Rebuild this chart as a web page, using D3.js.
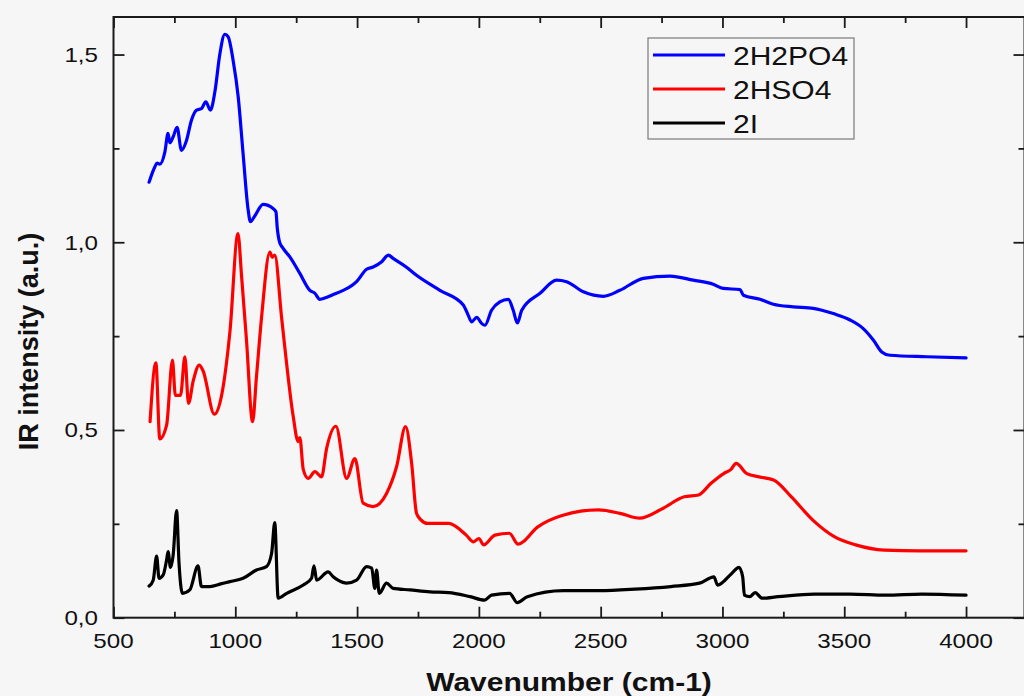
<!DOCTYPE html>
<html>
<head>
<meta charset="utf-8">
<script src="https://cdn.jsdelivr.net/npm/d3@7"></script>
<style>
  html, body { margin: 0; padding: 0; background: #f6f6f6; }
  svg { display: block; }
  text { font-family: "Liberation Sans", Arial, sans-serif; fill: #111; }
</style>
</head>
<body>
<svg id="chart" width="1024" height="696"></svg>
<script>
// IR spectra of the three complexes: wavenumber (cm-1) and intensity (a.u.)
const seriesNames = ["2H2PO4", "2HSO4", "2I"];

const h2po4X = [646,670,679,690,711,724,731,745,761,779,800,820,841,861,879,898,916,937,957,971,991,1012,1032,1053,1062,1080,1114,1155,1167,1172,1182,1195,1224,1265,1306,1327,1347,1370,1400,1443,1470,1498,1539,1566,1601,1628,1648,1700,1744,1840,1936,1956,1970,1991,2011,2025,2052,2086,2121,2141,2158,2176,2251,2319,2360,2429,2511,2579,2675,2785,2880,2962,3003,3072,3086,3154,3209,3291,3373,3455,3524,3578,3620,3654,3688,3839,4000];
const h2po4Y = [1.160,1.201,1.211,1.208,1.241,1.290,1.265,1.281,1.306,1.245,1.272,1.325,1.352,1.356,1.374,1.352,1.400,1.503,1.554,1.547,1.485,1.387,1.236,1.085,1.055,1.070,1.101,1.090,1.081,1.040,1.000,0.985,0.961,0.917,0.872,0.864,0.848,0.852,0.860,0.872,0.881,0.895,0.928,0.934,0.948,0.966,0.957,0.935,0.912,0.872,0.833,0.806,0.788,0.800,0.784,0.779,0.819,0.841,0.848,0.819,0.785,0.819,0.864,0.899,0.895,0.868,0.856,0.872,0.904,0.910,0.899,0.888,0.877,0.874,0.859,0.848,0.835,0.828,0.824,0.810,0.793,0.770,0.739,0.708,0.699,0.695,0.692];

const hso4X = [650,674,690,718,742,754,775,793,808,827,852,868,914,944,978,1011,1026,1046,1071,1087,1108,1142,1152,1162,1190,1203,1238,1258,1265,1279,1299,1327,1354,1375,1413,1457,1491,1525,1566,1621,1662,1699,1724,1744,1760,1790,1875,1948,1978,2000,2019,2066,2125,2161,2242,2345,2491,2579,2660,2755,2843,2902,2953,3005,3035,3056,3100,3151,3210,3283,3371,3459,3547,3665,3811,4000];
const hso4Y = [0.522,0.679,0.476,0.513,0.686,0.592,0.592,0.695,0.571,0.630,0.673,0.657,0.542,0.593,0.762,1.023,0.908,0.739,0.522,0.642,0.801,0.974,0.960,0.966,0.800,0.722,0.535,0.469,0.480,0.395,0.371,0.389,0.375,0.451,0.510,0.371,0.424,0.305,0.296,0.331,0.402,0.509,0.411,0.278,0.262,0.251,0.251,0.220,0.202,0.211,0.194,0.220,0.225,0.196,0.242,0.273,0.287,0.278,0.265,0.291,0.322,0.327,0.358,0.384,0.395,0.411,0.384,0.375,0.367,0.322,0.260,0.216,0.194,0.180,0.178,0.178];

const iodX = [646,663,677,687,704,718,724,734,745,759,769,783,813,847,861,896,940,978,1032,1087,1128,1149,1162,1176,1211,1279,1313,1323,1334,1381,1402,1422,1457,1498,1539,1560,1573,1580,1591,1621,1648,1717,1799,1876,1964,2023,2052,2126,2158,2199,2347,2494,2641,2788,2906,2965,2980,3038,3068,3083,3090,3112,3134,3163,3229,3377,3524,3671,3818,4000];
const iodY = [0.084,0.100,0.164,0.105,0.114,0.154,0.176,0.134,0.167,0.285,0.145,0.065,0.074,0.138,0.083,0.083,0.090,0.096,0.105,0.127,0.136,0.171,0.253,0.052,0.065,0.087,0.105,0.138,0.100,0.122,0.109,0.100,0.092,0.100,0.136,0.132,0.078,0.127,0.065,0.092,0.078,0.074,0.069,0.067,0.056,0.047,0.060,0.065,0.040,0.056,0.072,0.072,0.076,0.083,0.092,0.109,0.087,0.118,0.134,0.109,0.060,0.056,0.067,0.052,0.056,0.063,0.063,0.060,0.063,0.060];

// axis ticks and labels
const xMajorTicks = [500,1000,1500,2000,2500,3000,3500,4000];
const xMinorTicks = [750,1250,1750,2250,2750,3250,3750];
const yMajorTicks = [0, 0.5, 1.0, 1.5];
const yMinorTicks = [0.25, 0.75, 1.25];
const yTickLabels = ["0,0", "0,5", "1,0", "1,5"];
const xDomain = [500, 4240];
const yDomain = [0, 1.6];
const xTitle = "Wavenumber (cm-1)";
const yTitle = "IR intensity (a.u.)";

const colors = ["#0000ff", "#ff0000", "#000000"];

const svg = d3.select("#chart");
const plotLeft = 113.5, plotRight = 1024.5, plotTop = 17, plotBottom = 617.7;

const x = d3.scaleLinear().domain(xDomain).range([plotLeft, plotRight]);
const y = d3.scaleLinear().domain(yDomain).range([plotBottom, plotTop]);

// widen glyphs horizontally to match the wide rendering of the labels
function widen(sel, k) {
  sel.each(function () {
    const w = this.getComputedTextLength();
    this.setAttribute("textLength", w * k);
    this.setAttribute("lengthAdjust", "spacingAndGlyphs");
  });
}

// spectra
const series = [
  d3.zip(h2po4X, h2po4Y),
  d3.zip(hso4X, hso4Y),
  d3.zip(iodX, iodY)
];
const line = d3.line().x(d => x(d[0])).y(d => y(d[1])).curve(d3.curveMonotoneX);
svg.append("g").selectAll("path")
  .data(series)
  .join("path")
  .attr("d", line)
  .attr("fill", "none")
  .attr("stroke", (d, i) => colors[i])
  .attr("stroke-width", 3.2)
  .attr("stroke-linejoin", "round")
  .attr("stroke-linecap", "round");

// ticks on all four sides, pointing inward
const axisColor = "#1a1a1a";
function tickAxis(axisGen, transform, size) {
  const g = svg.append("g").attr("transform", transform).call(axisGen.tickSize(size).tickFormat(""));
  g.select(".domain").remove();
  g.selectAll(".tick line").attr("stroke", axisColor).attr("stroke-width", 1.8);
  g.selectAll(".tick text").remove();
}
tickAxis(d3.axisBottom(x).tickValues(xMajorTicks), `translate(0,${plotBottom})`, -11);
tickAxis(d3.axisBottom(x).tickValues(xMinorTicks), `translate(0,${plotBottom})`, -6);
tickAxis(d3.axisTop(x).tickValues(xMajorTicks), `translate(0,${plotTop})`, -11);
tickAxis(d3.axisTop(x).tickValues(xMinorTicks), `translate(0,${plotTop})`, -6);
tickAxis(d3.axisLeft(y).tickValues(yMajorTicks), `translate(${plotLeft},0)`, -11);
tickAxis(d3.axisLeft(y).tickValues(yMinorTicks), `translate(${plotLeft},0)`, -6);
tickAxis(d3.axisRight(y).tickValues(yMajorTicks), `translate(${plotRight},0)`, -11);
tickAxis(d3.axisRight(y).tickValues(yMinorTicks), `translate(${plotRight},0)`, -6);

// frame
svg.append("rect")
  .attr("x", plotLeft).attr("y", plotTop)
  .attr("width", plotRight - plotLeft).attr("height", plotBottom - plotTop)
  .attr("fill", "none").attr("stroke", axisColor).attr("stroke-width", 2);

// tick labels
svg.append("g").selectAll("text")
  .data(xMajorTicks)
  .join("text")
  .attr("x", d => x(d))
  .attr("y", 648)
  .attr("text-anchor", "middle")
  .attr("font-size", 21)
  .text(d => d)
  .call(widen, 1.15);

svg.append("g").selectAll("text")
  .data(yMajorTicks)
  .join("text")
  .attr("x", 98)
  .attr("y", d => y(d) + 7.5)
  .attr("text-anchor", "end")
  .attr("font-size", 21)
  .text((d, i) => yTickLabels[i])
  .call(widen, 1.15);

// axis titles
svg.append("text")
  .attr("x", (plotLeft + plotRight) / 2)
  .attr("y", 691)
  .attr("text-anchor", "middle")
  .attr("font-size", 25)
  .attr("font-weight", "bold")
  .text(xTitle)
  .call(widen, 1.2);

svg.append("text")
  .attr("transform", "translate(38,341.5) rotate(-90)")
  .attr("text-anchor", "middle")
  .attr("font-size", 27)
  .attr("font-weight", "bold")
  .text(yTitle);

// legend
const legend = svg.append("g");
legend.append("rect")
  .attr("x", 648).attr("y", 38)
  .attr("width", 206).attr("height", 101)
  .attr("fill", "none").attr("stroke", "#7a7a7a").attr("stroke-width", 1.2);
const rows = legend.selectAll("g.row")
  .data(seriesNames)
  .join("g")
  .attr("class", "row")
  .attr("transform", (d, i) => `translate(0,${55 + i * 34})`);
rows.append("line")
  .attr("x1", 653).attr("x2", 725)
  .attr("stroke", (d, i) => colors[i])
  .attr("stroke-width", 3);
rows.append("text")
  .attr("x", 733)
  .attr("y", 9.5)
  .attr("font-size", 25)
  .text(d => d)
  .call(widen, 1.2);
</script>
</body>
</html>
